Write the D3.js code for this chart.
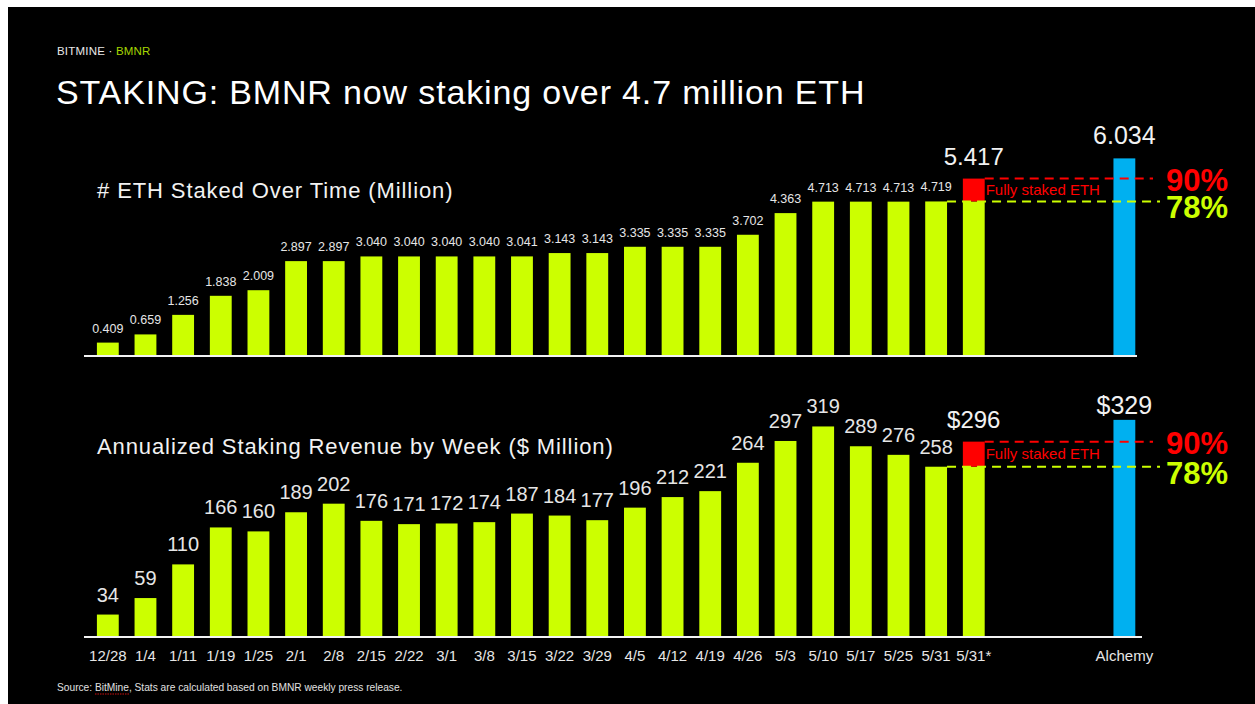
<!DOCTYPE html>
<html>
<head>
<meta charset="utf-8">
<script src="https://cdn.jsdelivr.net/npm/d3@7"></script>
<style>
  body { margin: 0; background: #fff; }
  svg { display: block; font-family: "Liberation Sans", Arial, sans-serif; }
</style>
</head>
<body>
<div id="chart"></div>
<script>
// weekly data
const weeks = ["12/28", "1/4", "1/11", "1/19", "1/25", "2/1", "2/8", "2/15", "2/22", "3/1", "3/8",
  "3/15", "3/22", "3/29", "4/5", "4/12", "4/19", "4/26", "5/3", "5/10", "5/17", "5/25", "5/31", "5/31*"];
const ethStaked = [0.409, 0.659, 1.256, 1.838, 2.009, 2.897, 2.897, 3.040, 3.040, 3.040, 3.040,
  3.041, 3.143, 3.143, 3.335, 3.335, 3.335, 3.702, 4.363, 4.713, 4.713, 4.713, 4.719];
const revenue = [34, 59, 110, 166, 160, 189, 202, 176, 171, 172, 174,
  187, 184, 177, 196, 212, 221, 264, 297, 319, 289, 276, 258];
// 5/31* = fully staked scenario, Alchemy = comparison
const fullyStaked = [5.417, 296];
const alchemy = [6.034, 329];
const pctLabels = ["90%", "78%"];

const W = 1255, H = 704;
const green = "#ccff00", red = "#ff0000", blue = "#00b0f0";

const svg = d3.select("#chart")
  .append("svg")
  .attr("width", W)
  .attr("height", H);

svg.append("rect")
  .attr("x", 8).attr("y", 7)
  .attr("width", W - 8).attr("height", H - 7)
  .attr("fill", "#000");

// header
const brand = svg.append("text")
  .attr("x", 57).attr("y", 55)
  .style("font-size", "11.5px")
  .style("letter-spacing", "0.2px")
  .attr("fill", "#e8e8e8");
brand.append("tspan").text("BITMINE · ");
brand.append("tspan").attr("fill", "#a6d600").text("BMNR");

svg.append("text")
  .attr("x", 56).attr("y", 104)
  .style("font-size", "34px")
  .style("letter-spacing", "0.85px")
  .attr("fill", "#fff")
  .text("STAKING: BMNR now staking over 4.7 million ETH");

// x: 24 weeks, 3 empty slots, then Alchemy
const slots = d3.range(28);
const x = d3.scaleBand()
  .domain(slots)
  .range([89, 89 + 28 * 37.65])
  .paddingInner(0.42)
  .paddingOuter(0.21);
const alchemySlot = 27;

function panel(opts) {
  const y = d3.scaleLinear().domain([0, opts.max]).range([opts.base, opts.base - opts.max * opts.pxPer]);
  const g = svg.append("g");
  const last = opts.values.length; // index of the fully staked bar

  // subtitle
  g.append("text")
    .attr("x", 97).attr("y", opts.titleY)
    .style("font-size", "22px")
    .style("letter-spacing", "0.9px")
    .attr("fill", "#f2f2f2")
    .text(opts.title);

  // weekly bars
  g.selectAll("rect.wk")
    .data(opts.values)
    .join("rect")
    .attr("class", "wk")
    .attr("x", (d, i) => x(i))
    .attr("y", d => y(d))
    .attr("width", x.bandwidth())
    .attr("height", d => y(0) - y(d))
    .attr("fill", green);

  g.selectAll("text.val")
    .data(opts.values)
    .join("text")
    .attr("class", "val")
    .attr("x", (d, i) => x(i) + x.bandwidth() / 2)
    .attr("y", d => y(d) - opts.labelGap)
    .attr("text-anchor", "middle")
    .style("font-size", opts.labelSize)
    .attr("fill", "#e6e6e6")
    .text(opts.fmt);

  // fully staked bar: green to current level, red cap to full
  const cur = opts.values[last - 1];
  g.append("rect")
    .attr("x", x(last)).attr("y", y(cur))
    .attr("width", x.bandwidth()).attr("height", y(0) - y(cur))
    .attr("fill", green);
  g.append("rect")
    .attr("x", x(last)).attr("y", y(opts.full))
    .attr("width", x.bandwidth()).attr("height", y(cur) - y(opts.full))
    .attr("fill", red);
  g.append("text")
    .attr("x", x(last) + x.bandwidth() / 2)
    .attr("y", y(opts.full) - 14)
    .attr("text-anchor", "middle")
    .style("font-size", "24px")
    .attr("fill", "#f2f2f2")
    .text(opts.bigFmt(opts.full));

  // Alchemy bar
  g.append("rect")
    .attr("x", x(alchemySlot)).attr("y", y(opts.alch))
    .attr("width", x.bandwidth()).attr("height", y(0) - y(opts.alch))
    .attr("fill", blue);
  g.append("text")
    .attr("x", x(alchemySlot) + x.bandwidth() / 2)
    .attr("y", y(opts.alch) - opts.alchGap)
    .attr("text-anchor", "middle")
    .style("font-size", "25px")
    .attr("fill", "#f2f2f2")
    .text(opts.bigFmt(opts.alch));

  // dashed reference lines
  g.append("line")
    .attr("x1", x(last) + x.bandwidth()).attr("x2", 1153)
    .attr("y1", y(opts.full)).attr("y2", y(opts.full))
    .attr("stroke", red).attr("stroke-width", 2)
    .attr("stroke-dasharray", "9,6");
  g.append("line")
    .attr("x1", x(last - 1) + x.bandwidth()).attr("x2", 1160)
    .attr("y1", y(cur)).attr("y2", y(cur))
    .attr("stroke", green).attr("stroke-width", 2)
    .attr("stroke-dasharray", "9,6");

  g.append("text")
    .attr("x", x(last) + x.bandwidth() + 1)
    .attr("y", (y(opts.full) + y(cur)) / 2 + 5)
    .style("font-size", "15px")
    .attr("fill", red)
    .text("Fully staked ETH");

  g.append("text")
    .attr("x", 1166).attr("y", y(opts.full) + 12)
    .style("font-size", "31px").style("font-weight", "bold")
    .attr("fill", red)
    .text(pctLabels[0]);
  g.append("text")
    .attr("x", 1166).attr("y", y(cur) + 17)
    .style("font-size", "31px").style("font-weight", "bold")
    .attr("fill", green)
    .text(pctLabels[1]);

  // baseline
  g.append("line")
    .attr("x1", 84).attr("x2", opts.axisEnd)
    .attr("y1", y(0)).attr("y2", y(0))
    .attr("stroke", "#f2f2f2").attr("stroke-width", 2);

  return y;
}

panel({
  title: "# ETH Staked Over Time (Million)", titleY: 198,
  values: ethStaked, full: fullyStaked[0], alch: alchemy[0],
  max: 6.2, base: 356, pxPer: 32.75,
  labelGap: 10, labelSize: "12.5px", alchGap: 14,
  fmt: d => d3.format(".3f")(d), bigFmt: d => d3.format(".3f")(d),
  axisEnd: 1137
});

panel({
  title: "Annualized Staking Revenue by Week ($ Million)", titleY: 454,
  values: revenue, full: fullyStaked[1], alch: alchemy[1],
  max: 340, base: 637, pxPer: 0.66,
  labelGap: 13, labelSize: "20px", alchGap: 6,
  fmt: d => d, bigFmt: d => "$" + d,
  axisEnd: 1142
});

// category labels under the bottom panel
svg.append("g")
  .selectAll("text")
  .data(weeks.concat(["Alchemy"]))
  .join("text")
  .attr("x", (d, i) => x(i < weeks.length ? i : alchemySlot) + x.bandwidth() / 2)
  .attr("y", 661)
  .attr("text-anchor", "middle")
  .style("font-size", "15px")
  .attr("fill", "#e6e6e6")
  .text(d => d);

// source note
const src = svg.append("text")
  .attr("x", 57).attr("y", 691)
  .style("font-size", "10.2px")
  .attr("fill", "#e0e0e0")
  .text("Source: BitMine, Stats are calculated based on BMNR weekly press release.");
const n = src.node();
const ux = 57 + n.getSubStringLength(0, 8);
svg.append("line")
  .attr("x1", ux).attr("x2", ux + n.getSubStringLength(8, 7))
  .attr("y1", 694).attr("y2", 694)
  .attr("stroke", "#d01010").attr("stroke-width", 1)
  .attr("stroke-dasharray", "1.5,1");
</script>
</body>
</html>
